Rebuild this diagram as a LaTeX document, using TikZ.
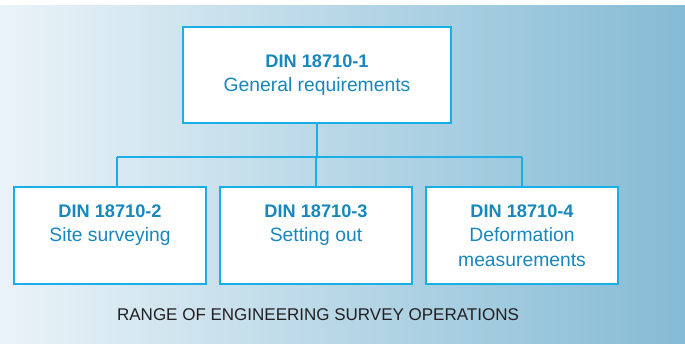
\documentclass[tikz,border=0pt]{standalone}
\usepackage{fontspec}
\setmainfont{Liberation Sans}
\usetikzlibrary{positioning}

\definecolor{dinline}{HTML}{1AAEE6}
\definecolor{dintext}{HTML}{1787BE}
\definecolor{bgleft}{HTML}{EAF3F8}
\definecolor{bgright}{HTML}{85BBD5}
\definecolor{captext}{HTML}{231F20}

\newcommand{\dinno}[1]{{\fontsize{18.2}{24}\selectfont\bfseries #1}}

\tikzset{
  partbox/.style={draw=dinline, line width=2pt, fill=white, text=dintext,
    align=center, minimum width=192pt, minimum height=97pt, inner sep=0pt,
    font=\fontsize{19.3}{24.5}\selectfont},
  bus/.style={draw=dinline, line width=2pt}
}

\begin{document}
\begin{tikzpicture}[x=1pt,y=1pt]
  \useasboundingbox (0,0) rectangle (685,343);
  \shade[left color=bgleft, right color=bgright] (0,0) rectangle (685,337);

  \node[partbox, minimum width=268pt, minimum height=96pt] (part1) at (317,268)
    {\dinno{DIN 18710-1}\\General requirements};
  \node[partbox] (part3) at (316,107.5)
    {\dinno{DIN 18710-3}\\Setting out\\\phantom{measurements}};
  \node[partbox, left=12pt of part3] (part2)
    {\dinno{DIN 18710-2}\\Site surveying\\\phantom{measurements}};
  \node[partbox, right=12pt of part3] (part4)
    {\dinno{DIN 18710-4}\\Deformation\\measurements};

  \coordinate (hub) at (317,186);
  \coordinate (tap2) at ([xshift=7pt]part2.north);

  \draw[bus] (part1.south) -- (hub);
  \draw[bus] (tap2 |- hub) -- (part4.north |- hub);
  \draw[bus] (tap2 |- hub) -- (tap2);
  \draw[bus] (part3.north |- hub) -- (part3.north);
  \draw[bus] (part4.north |- hub) -- (part4.north);

  \node[text=captext, font=\fontsize{17}{20}\selectfont] (caption) at (318,28)
    {RANGE OF ENGINEERING SURVEY OPERATIONS};
\end{tikzpicture}
\end{document}
